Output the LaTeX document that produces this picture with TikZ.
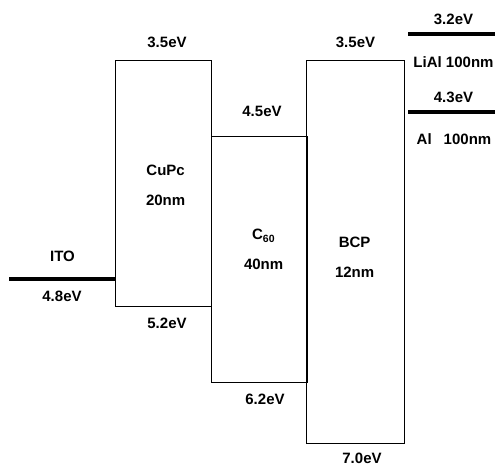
\documentclass[tikz,border=0pt]{standalone}
\usepackage{fontspec}
\setmainfont{Liberation Sans}
\usetikzlibrary{positioning, calc}
\tikzset{
  layer/.style={
    rectangle, draw=black, fill=none, line width=1.3pt,
    inner sep=0pt, anchor=north west
  },
  level/.style={line width=4.5pt, draw=black},
  evlabel/.style={font=\bfseries\fontsize{15}{18}\selectfont, inner sep=0pt},
  layertext/.style={font=\bfseries\fontsize{15}{30}\selectfont, align=center, inner sep=0pt},
}
\begin{document}
\begin{tikzpicture}[x=1pt, y=-1pt]
  \useasboundingbox (0,0) rectangle (497,467);

  % organic layers
  \node[layer, minimum width=96pt, minimum height=246pt] (cupc) at (115,60) {};
  \node[layer, minimum width=96pt, minimum height=246pt] (c60) at (211,136) {};
  \node[layer, minimum width=98pt, minimum height=383pt] (bcp) at (306,60) {};

  \node[layertext] (cupctxt) at ([xshift=2pt, yshift=-2pt]cupc.center) {CuPc\\20nm};
  \node[layertext] (c60txt) at ([xshift=4pt, yshift=10pt]c60.center) {C\textsubscript{60}\\40nm};
  \node[layertext] (bcptxt) at ([xshift=-1pt, yshift=-5pt]bcp.center) {BCP\\12nm};

  % electrodes
  \coordinate (itoL) at (9,279);
  \coordinate (lialL) at (408,34);
  \coordinate (lialR) at (495,34);
  \coordinate (alL) at (408,112);
  \coordinate (alR) at (495,112);
  \draw[level] (itoL) -- (itoL -| cupc.west);
  \draw[level] (lialL) -- (lialR);
  \draw[level] (alL) -- (alR);

  % energy levels
  \node[evlabel] (cupcup) at (167,42) {3.5eV};
  \node[evlabel] (cupcdn) at (167,323.5) {5.2eV};
  \node[evlabel] (c60up) at (262,111.5) {4.5eV};
  \node[evlabel] (c60dn) at (265,399) {6.2eV};
  \node[evlabel] (bcpup) at (355.5,42) {3.5eV};
  \node[evlabel] (bcpdn) at (362,458) {7.0eV};
  \node[evlabel] (ito) at (62.5,256) {ITO};
  \node[evlabel] (itoev) at (62,296) {4.8eV};
  \node[evlabel] (lialev) at (453.5,19) {3.2eV};
  \node[evlabel] (lial) at (453.5,62) {LiAl 100nm};
  \node[evlabel] (alev) at (453.5,97.5) {4.3eV};
  \node[evlabel] (al) at (454,139) {Al\hspace{12pt}100nm};
\end{tikzpicture}
\end{document}
